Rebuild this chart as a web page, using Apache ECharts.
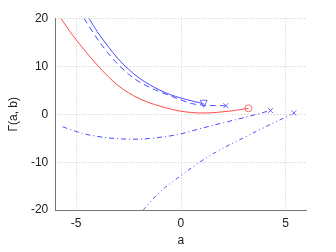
<!DOCTYPE html>
<html>
<head>
<meta charset="utf-8">
<script src="https://cdn.jsdelivr.net/npm/echarts@6/dist/echarts.min.js"></script>
<style>
html,body{margin:0;padding:0;background:#fff;}
#c{width:336px;height:252px;}
</style>
</head>
<body>
<div id="c"></div>
<script>
// Data
const xTicks = [-5, 0, 5];
const yTicks = [-20, -10, 0, 10, 20];
const redSolid = [[-5.72,20],[-5.25,17],[-4.62,13.5],[-4,10.3],[-3.5,8.0],[-3,6.0],[-2.5,4.5],[-2,3.3],[-1.5,2.4],[-1,1.7],[-0.5,1.1],[0,0.65],[0.5,0.38],[1,0.27],[1.5,0.33],[2,0.52],[2.5,0.76],[3.23,1.25]];
const blueSolid = [[-4.38,20],[-4,17.3],[-3.5,14.3],[-3,11.6],[-2.5,9.4],[-2,7.6],[-1.5,6.2],[-1,5.05],[-0.5,4.1],[0,3.4],[0.5,2.82],[1.09,2.2]];
const blueDashed = [[-4.62,20],[-4,15.8],[-3.5,12.9],[-3,10.4],[-2.5,8.4],[-2,6.8],[-1.5,5.65],[-1,4.7],[-0.5,3.85],[0,3.0],[0.5,2.25],[1.1,1.9],[1.6,1.82],[2.15,1.8]];
const blueDashDot = [[-5.65,-2.6],[-5,-3.6],[-4.5,-4.2],[-4,-4.6],[-3.5,-4.9],[-3,-5.1],[-2.3,-5.2],[-1.5,-5.05],[-1,-4.8],[-0.5,-4.5],[0,-4.1],[0.5,-3.5],[1,-2.9],[2,-1.8],[3,-0.7],[4.28,0.78]];
const blueDashDotDot = [[-1.8,-20],[-1,-16.2],[0,-12.8],[1,-9.7],[2,-7.1],[3,-4.9],[4,-2.7],[5,-0.6],[5.4,0.3]];

const RED = '#ff4a4a', BLUE = '#4a4aff';
const xMark = 'path://M0,0L10,10M10,0L0,10';
const triDown = 'path://M0,0L10,0L5,9Z';

function lineSeries(data, color, dash) {
  return { type: 'line', data: data, symbol: 'none', smooth: 0.35, z: 3,
    lineStyle: { color: color, width: 1, type: dash }, silent: true };
}
function endMark(data, color, symbol, size) {
  return { type: 'scatter', data: [data[data.length - 1]], symbol: symbol, symbolSize: size, z: 4,
    itemStyle: { color: 'none', borderColor: color, borderWidth: 1 }, silent: true };
}

const chart = echarts.init(document.getElementById('c'), null, { renderer: 'canvas' });
const font = 'Liberation Sans';
chart.setOption({
  animation: false,
  backgroundColor: '#fff',
  grid: { left: 54, right: 29.5, top: 18.5, bottom: 39.6 },
  xAxis: {
    type: 'value', min: -6, max: 6,
    name: 'a', nameLocation: 'middle', nameGap: 24,
    nameTextStyle: { fontFamily: font, fontSize: 12, color: '#222' },
    axisLine: { show: true, onZero: false, lineStyle: { color: '#777', width: 1 } },
    axisTick: { show: false, customValues: xTicks },
    axisLabel: { customValues: xTicks, fontFamily: font, fontSize: 12, color: '#222', margin: 8 },
    splitLine: { show: true, lineStyle: { color: '#c8c8c8', width: 1, type: [1, 2] } }
  },
  yAxis: {
    type: 'value', min: yTicks[0], max: yTicks[yTicks.length - 1], interval: 10,
    name: 'Γ(a, b)', nameLocation: 'middle', nameGap: 35,
    nameTextStyle: { fontFamily: font, fontSize: 12, color: '#222' },
    axisLine: { show: true, onZero: false, lineStyle: { color: '#777', width: 1 } },
    axisTick: { show: false },
    axisLabel: { fontFamily: font, fontSize: 12, color: '#222', margin: 7 },
    splitLine: { show: true, lineStyle: { color: '#c8c8c8', width: 1, type: [1, 2] } }
  },
  series: [
    lineSeries(redSolid, RED, 'solid'),
    lineSeries(blueSolid, BLUE, 'solid'),
    lineSeries(blueDashed, BLUE, [6, 4]),
    lineSeries(blueDashDot, BLUE, [5, 3, 1, 3]),
    lineSeries(blueDashDotDot, BLUE, [4, 3, 1, 3, 1, 3]),
    endMark(redSolid, RED, 'circle', 7),
    endMark(blueSolid, BLUE, triDown, 7),
    endMark(blueDashed, BLUE, xMark, 5),
    endMark(blueDashDot, BLUE, xMark, 5),
    endMark(blueDashDotDot, BLUE, xMark, 5)
  ]
});
</script>
</body>
</html>
